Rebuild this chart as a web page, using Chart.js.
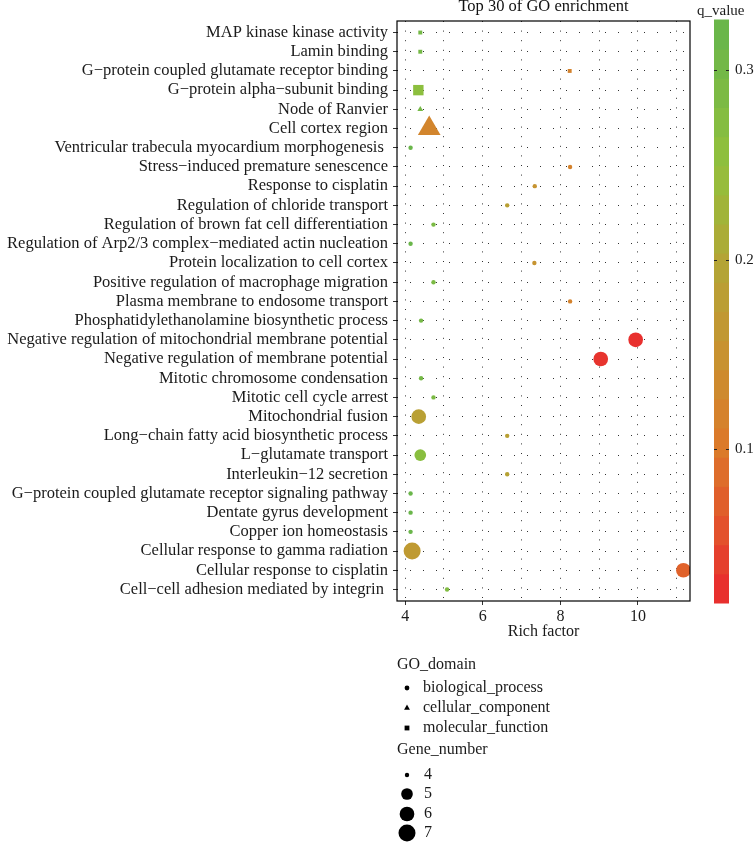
<!DOCTYPE html>
<html>
<head>
<meta charset="utf-8">
<title>Top 30 of GO enrichment</title>
<script src="https://cdn.jsdelivr.net/npm/chart.js@4/dist/chart.umd.min.js"></script>
<style>
  html, body { margin: 0; padding: 0; background: #fff; }
  #wrap { width: 754px; height: 842px; position: relative; }
</style>
</head>
<body>
<div id="wrap"><canvas id="goChart" width="754" height="842"></canvas></div>
<script>
const FONT = '"Liberation Serif", "DejaVu Serif", serif';

// GO terms, top to bottom as drawn
const terms = [
    'MAP kinase kinase activity',
    'Lamin binding',
    'G\u2212protein coupled glutamate receptor binding',
    'G\u2212protein alpha\u2212subunit binding',
    'Node of Ranvier',
    'Cell cortex region',
    'Ventricular trabecula myocardium morphogenesis ',
    'Stress\u2212induced premature senescence',
    'Response to cisplatin',
    'Regulation of chloride transport',
    'Regulation of brown fat cell differentiation',
    'Regulation of Arp2/3 complex\u2212mediated actin nucleation',
    'Protein localization to cell cortex',
    'Positive regulation of macrophage migration',
    'Plasma membrane to endosome transport',
    'Phosphatidylethanolamine biosynthetic process',
    'Negative regulation of mitochondrial membrane potential',
    'Negative regulation of membrane potential',
    'Mitotic chromosome condensation',
    'Mitotic cell cycle arrest',
    'Mitochondrial fusion',
    'Long\u2212chain fatty acid biosynthetic process',
    'L\u2212glutamate transport',
    'Interleukin\u221212 secretion',
    'G\u2212protein coupled glutamate receptor signaling pathway',
    'Dentate gyrus development',
    'Copper ion homeostasis',
    'Cellular response to gamma radiation',
    'Cellular response to cisplatin',
    'Cell\u2212cell adhesion mediated by integrin '
];

const richFactor = [
    4.39, 4.39, 8.24, 4.34, 4.39, 4.62, 4.14, 8.25, 7.34, 6.63,
    4.73, 4.14, 7.33, 4.73, 8.25, 4.41, 9.94, 9.04, 4.41, 4.73,
    4.35, 6.63, 4.39, 6.63, 4.14, 4.14, 4.14, 4.18, 11.17, 5.08
];

const qValue = [
    0.300, 0.300, 0.120, 0.260, 0.300, 0.125, 0.319, 0.120, 0.155, 0.185,
    0.290, 0.319, 0.155, 0.290, 0.120, 0.300, 0.026, 0.030, 0.300, 0.290,
    0.185, 0.185, 0.265, 0.190, 0.319, 0.319, 0.319, 0.170, 0.075, 0.280
];

const geneNumber = [
    4, 4, 4, 5, 4, 7, 4, 4, 4, 4,
    4, 4, 4, 4, 4, 4, 6, 6, 4, 4,
    6, 4, 5, 4, 4, 4, 4, 7, 6, 4
];

const goDomain = [
    'molecular_function', 'molecular_function', 'molecular_function', 'molecular_function',
    'cellular_component', 'cellular_component',
    'biological_process', 'biological_process', 'biological_process', 'biological_process',
    'biological_process', 'biological_process', 'biological_process', 'biological_process',
    'biological_process', 'biological_process', 'biological_process', 'biological_process',
    'biological_process', 'biological_process', 'biological_process', 'biological_process',
    'biological_process', 'biological_process', 'biological_process', 'biological_process',
    'biological_process', 'biological_process', 'biological_process', 'biological_process'
];

const xTicks = [4, 5, 6, 7, 8, 9, 10, 11];
const xRange = [3.79, 11.34];
const qTicks = [0.1, 0.2, 0.3];
const qRange = [0.026, 0.319];
const geneLegend = [4, 5, 6, 7];
const domainNames = ['biological_process', 'cellular_component', 'molecular_function'];
const domainShapes = ['circle', 'triangle', 'rect'];

// colour ramp used for q_value (sampled from the colour bar)
const qStops = [0.026, 0.06, 0.1, 0.15, 0.2, 0.25, 0.319];
const qColors = [[232, 48, 46], [226, 84, 44], [220, 120, 42], [200, 146, 48], [178, 166, 54], [146, 192, 60], [106, 182, 74]];

function qColor(q) {
    if (q <= qStops[0]) return `rgb(${qColors[0].join(',')})`;
    for (let i = 1; i < qStops.length; i++) {
        if (q <= qStops[i]) {
            const t = (q - qStops[i - 1]) / (qStops[i] - qStops[i - 1]);
            const c = qColors[i - 1].map((v, k) => Math.round(v + (qColors[i][k] - v) * t));
            return `rgb(${c.join(',')})`;
        }
    }
    return `rgb(${qColors[qColors.length - 1].join(',')})`;
}

// circle diameter in px for a gene number (ggplot area scale look)
function geneDiameter(g) {
    const t = Math.sqrt(Math.max(0, (g - 4) / 3));
    return 4.4 + 12.6 * t;
}

function pointRadius(g, shape) {
    const d = geneDiameter(g);
    if (shape === 'rect') return 0.63 * d;
    if (shape === 'triangle') return 0.77 * d;
    return d / 2;
}

function buildDatasets() {
    return domainNames.map((name, k) => {
        const idx = terms.map((_, i) => i).filter(i => goDomain[i] === name);
        return {
            label: name,
            data: idx.map(i => ({ x: richFactor[i], y: i })),
            pointStyle: domainShapes[k],
            pointRadius: idx.map(i => pointRadius(geneNumber[i], domainShapes[k])),
            pointHoverRadius: idx.map(i => pointRadius(geneNumber[i], domainShapes[k])),
            backgroundColor: idx.map(i => qColor(qValue[i])),
            borderWidth: 0,
            pointBorderWidth: 0,
            pointHoverBorderWidth: 0
        };
    });
}

function drawShape(ctx, shape, x, y, r) {
    ctx.beginPath();
    if (shape === 'circle') {
        ctx.arc(x, y, r, 0, Math.PI * 2);
    } else if (shape === 'triangle') {
        ctx.moveTo(x, y - r);
        ctx.lineTo(x + r * Math.sin(Math.PI * 2 / 3), y - r * Math.cos(Math.PI * 2 / 3));
        ctx.lineTo(x + r * Math.sin(Math.PI * 4 / 3), y - r * Math.cos(Math.PI * 4 / 3));
        ctx.closePath();
    } else {
        const s = Math.SQRT1_2 * r;
        ctx.rect(x - s, y - s, 2 * s, 2 * s);
    }
    ctx.fill();
}

function drawColorBar(ctx) {
    const left = 714, width = 15, top = 20, bottom = 603;
    const nbin = 20;
    const h = (bottom - top) / nbin;
    for (let i = 0; i < nbin; i++) {
        const v = qRange[0] + (qRange[1] - qRange[0]) * i / (nbin - 1);
        ctx.fillStyle = qColor(v);
        ctx.fillRect(left, bottom - (i + 1) * h - 0.5, width, h + 1);
    }
    ctx.strokeStyle = '#222';
    ctx.lineWidth = 1;
    ctx.fillStyle = '#1a1a1a';
    ctx.font = `15px ${FONT}`;
    ctx.textAlign = 'left';
    ctx.textBaseline = 'middle';
    qTicks.forEach(q => {
        const pos = (0.5 + (q - qRange[0]) / (qRange[1] - qRange[0]) * (nbin - 1)) / nbin;
        const y = Math.round(bottom - pos * (bottom - top)) + 0.5;
        ctx.beginPath();
        ctx.moveTo(left, y); ctx.lineTo(left + 3, y);
        ctx.moveTo(left + width - 3, y); ctx.lineTo(left + width, y);
        ctx.stroke();
        ctx.fillText(q.toFixed(1), 735, y);
    });
    ctx.font = `15px ${FONT}`;
    ctx.fillText('q_value', 697, 11);
}

function drawLegends(ctx) {
    ctx.fillStyle = '#1a1a1a';
    ctx.textAlign = 'left';
    ctx.textBaseline = 'middle';
    ctx.font = `16px ${FONT}`;
    ctx.fillText('GO_domain', 397, 665);
    const domainY = [688, 708, 728];
    domainNames.forEach((name, k) => {
        ctx.fillStyle = '#000';
        drawShape(ctx, domainShapes[k], 407, domainY[k], domainShapes[k] === 'circle' ? 2.4 : 3.4);
        ctx.fillStyle = '#1a1a1a';
        ctx.fillText(name, 423, domainY[k]);
    });
    ctx.fillText('Gene_number', 397, 750);
    const geneY = [775, 794, 814, 833];
    geneLegend.forEach((g, k) => {
        ctx.fillStyle = '#000';
        drawShape(ctx, 'circle', 407, geneY[k], geneDiameter(g) / 2);
        ctx.fillStyle = '#1a1a1a';
        ctx.fillText(String(g), 424, geneY[k]);
    });
}

const decorPlugin = {
    id: 'decor',
    afterDraw(chart) {
        const ctx = chart.ctx;
        const a = chart.chartArea;
        ctx.save();
        ctx.strokeStyle = '#000';
        ctx.lineWidth = 1.2;
        ctx.strokeRect(a.left, a.top, a.right - a.left, a.bottom - a.top);
        ctx.fillStyle = '#111';
        ctx.font = `16.5px ${FONT}`;
        ctx.textAlign = 'center';
        ctx.textBaseline = 'middle';
        ctx.fillText('Top 30 of GO enrichment', (a.left + a.right) / 2, 7);
        drawColorBar(ctx);
        drawLegends(ctx);
        ctx.restore();
    }
};

document.addEventListener('DOMContentLoaded', () => {
    const ctx = document.getElementById('goChart').getContext('2d');
    new Chart(ctx, {
        type: 'scatter',
        data: { datasets: buildDatasets() },
        options: {
            responsive: false,
            animation: false,
            events: [],
            layout: { padding: { top: 21, right: 64, bottom: 201, left: 0 } },
            plugins: {
                legend: { display: false },
                tooltip: { enabled: false },
                title: { display: false }
            },
            scales: {
                x: {
                    type: 'linear',
                    min: xRange[0],
                    max: xRange[1],
                    afterBuildTicks: scale => { scale.ticks = xTicks.map(v => ({ value: v })); },
                    afterFit: scale => { scale.height = 40; },
                    border: { display: false, dash: [1, 8.6] },
                    grid: {
                        color: '#333',
                        lineWidth: 1,
                        tickLength: 4,
                        tickColor: c => (c.tick && c.tick.value % 2 === 0) ? '#333' : 'rgba(0,0,0,0)',
                        tickBorderDash: []
                    },
                    ticks: {
                        autoSkip: false,
                        maxRotation: 0,
                        padding: 2,
                        color: '#1a1a1a',
                        font: { family: FONT, size: 16 },
                        callback: v => (v % 2 === 0 ? String(v) : '')
                    },
                    title: {
                        display: true,
                        text: 'Rich factor',
                        color: '#1a1a1a',
                        font: { family: FONT, size: 16 },
                        padding: { top: 0, bottom: 0 }
                    }
                },
                y: {
                    type: 'linear',
                    reverse: true,
                    min: -0.6,
                    max: terms.length - 0.4,
                    afterBuildTicks: scale => { scale.ticks = terms.map((_, i) => ({ value: i })); },
                    afterFit: scale => { scale.width = 397; },
                    border: { display: false, dash: [1, 12] },
                    grid: {
                        color: '#333',
                        lineWidth: 1,
                        tickLength: 4,
                        tickColor: '#333',
                        tickBorderDash: []
                    },
                    ticks: {
                        autoSkip: false,
                        padding: 5,
                        color: '#1a1a1a',
                        font: { family: FONT, size: 16.5 },
                        callback: v => terms[v]
                    }
                }
            }
        },
        plugins: [decorPlugin]
    });
});
</script>
</body>
</html>
